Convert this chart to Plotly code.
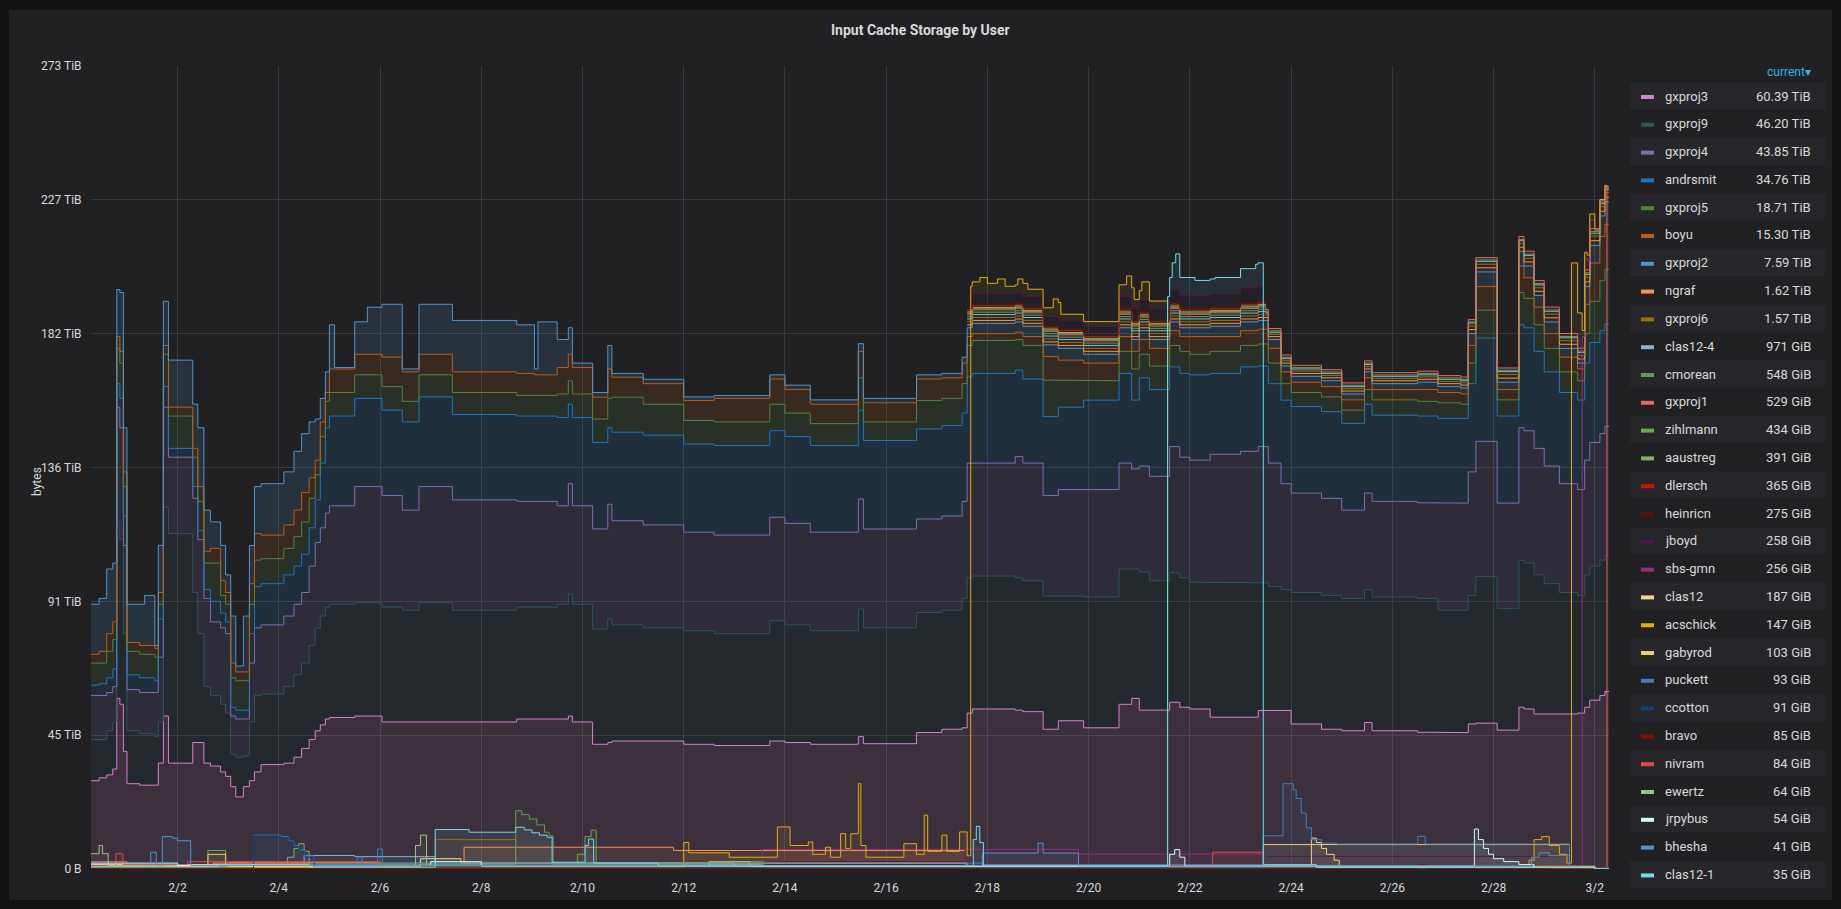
import numpy as np
import pandas as pd
import plotly.graph_objects as go

# ---------------- time reference ----------------
# times are given as fractional days since 2022-01-31 00:00 (so 2.0 == Feb 2 00:00)
BASE = pd.Timestamp("2022-01-31 00:00")
T_START, T_END = 0.29, 30.28

# ---------------- main (large) series, own values in TiB ----------------
t_main = [0.29, 0.45, 0.60, 0.72, 0.80, 0.86, 0.93, 1.00, 1.25, 1.35, 1.55, 1.62, 1.72, 1.82,
          2.30, 2.40, 2.52, 2.65, 2.85, 2.95, 3.05, 3.15, 3.30, 3.42, 3.52, 3.65, 4.10, 4.30,
          4.45, 4.60, 4.72, 4.82, 4.92, 5.00, 5.10, 5.50, 5.75, 6.04, 6.44, 6.77, 7.43, 8.70,
          9.05, 9.12, 9.50, 9.72, 9.80, 10.20, 10.50, 10.58, 11.20, 12.00, 12.60, 13.70, 14.00,
          14.50, 15.45, 15.55, 16.60, 17.10, 17.50, 17.60, 17.70, 18.55, 18.70, 19.10, 19.40,
          19.90, 20.60, 20.85, 21.00, 21.20, 21.60, 21.80, 22.00, 22.40, 23.00, 23.35, 23.55,
          23.80, 24.00, 24.60, 25.00, 25.45, 25.60, 26.50, 26.90, 27.35, 27.50, 27.65, 28.07,
          28.50, 28.60, 28.80, 29.00, 29.30, 29.66, 29.80, 29.90, 30.10, 30.20]

gxproj3 = [30, 31, 32, 34, 58, 56, 40, 29, 28.5, 28.5, 28.5, 36, 52, 36,
           43, 43, 36, 35, 33, 31.5, 28, 24.5, 28, 30, 33, 35.5, 36, 38,
           41, 44, 47, 49, 51, 51.5, 51.5, 52, 52, 50, 50, 50, 50, 51,
           51, 51, 51, 52, 50, 42.4, 43, 43.5, 43.5, 42.4, 42, 43.5, 43,
           42.4, 45, 42.6, 46.4, 47.5, 48, 53, 54.4, 54, 53.5, 47.5, 50.4,
           48, 56, 58, 54, 54, 56.7, 55, 54.4, 51.6, 51.6, 53.9, 53.9,
           53.9, 49.3, 47.5, 47, 49.8, 47, 46.5, 46.5, 46.4, 49.3, 49.6, 47.2,
           55, 54.4, 52.7, 52.7, 52.7, 53, 55, 57.4, 59, 60.39]
gxproj9 = [14, 13, 15, 16, 60, 56, 40, 18, 17.5, 17.5, 16.5, 14, 71, 78,
           51, 37, 26, 24, 23, 21.5, 11, 13.5, 10.5, 20, 26, 24, 26, 28,
           29, 32, 35, 37, 38, 38.5, 38.5, 38.5, 38.5, 39, 38, 40.5, 38, 38,
           38, 38, 39, 41.5, 40, 39.2, 42, 39.5, 38.5, 38.6, 38, 40.9, 40,
           38.6, 43.4, 39.4, 40.8, 40.5, 44, 46, 45.2, 45, 44.5, 45.3, 42.4,
           44.5, 46, 44, 47, 44, 44, 44, 43.1, 45.7, 45.7, 43.4, 42.1,
           41.1, 44.7, 45.5, 45, 45.2, 45.5, 45.5, 41.5, 41.6, 43.7, 49.8, 41.3,
           49.9, 49.6, 47.3, 44.3, 41.3, 40, 45, 45.6, 46, 46.2]
gxproj4 = [15, 15, 13, 12, 39, 38, 30, 14, 14, 14, 15, 22, 34, 26,
           32, 32, 30, 25, 26, 27, 13, 13, 12.5, 20, 23, 23.5, 24, 24,
           24, 27, 29, 30, 32, 33.5, 33.5, 39.5, 39.5, 38, 34, 39.5, 37.5, 36,
           36, 36, 33.5, 37.5, 33.5, 34, 39, 35.4, 35, 33.5, 33.5, 35.2, 34.5,
           33.5, 37.4, 33.6, 31.8, 32, 33, 39, 38.4, 41.2, 40, 34.2, 36.2,
           36.5, 36, 34, 36, 35.5, 42.9, 41, 41.5, 43.7, 44.7, 46.3, 42,
           36, 33.8, 33, 30, 32.8, 32.5, 32.5, 36.4, 36.4, 42, 46, 35.9,
           45.1, 45, 43, 40, 37, 36, 39, 42, 43, 43.85]
andrsmit = [3.5, 4, 5, 6, 8, 10, 10, 5, 5, 5, 4, 13, 7, 3,
            4, 3, 3, 7, 5, 4, 3, 3, 3, 10, 14, 14, 14, 13,
            13, 13, 14.5, 22, 29, 30.5, 30.5, 30, 30, 29, 30, 30.5, 29, 29,
            29, 29, 30, 27, 30, 29.4, 26, 30.1, 30.5, 30, 30.5, 29.4, 29.5,
            29.5, 30.2, 30.1, 30.6, 30.8, 30, 29.3, 30.5, 29.4, 28.6, 26.8, 28,
            30.4, 30.5, 23.4, 30, 29.5, 27.1, 28.5, 29, 27.5, 28.7, 27.4, 27,
            28.4, 29.4, 29.5, 29.5, 30.2, 29.3, 29.5, 28.8, 28.8, 30, 35.1, 29.6,
            35, 35, 33, 32, 31, 30.4, 33, 34, 35, 34.76]
gxproj5 = [7.5, 7, 9, 10, 12, 12, 10, 8, 8, 8, 8, 5, 11, 11,
           10, 10, 9, 13, 6, 6, 10, 10, 10, 10, 9, 8.5, 9, 10,
           11, 10, 8.5, 9, 9, 8, 8, 8, 8, 8, 7, 7.5, 7.5, 7,
           7, 7, 8, 8, 8, 8, 10, 11.9, 10.5, 8, 8, 9, 8,
           7.4, 11, 6.3, 9.7, 9.2, 10, 10.7, 11.2, 10.4, 11.4, 12.4, 9,
           6.6, 7.5, 10.6, 8, 8, 7.3, 7.5, 7, 7.5, 7.3, 7.5, 7,
           5.6, 4.8, 5, 4.5, 5, 5.2, 5, 5.3, 4.8, 7, 9.5, 5.5,
           11, 10, 9, 8, 7, 6.6, 10, 14, 17, 18.71]
boyu = [3, 4, 6, 6, 4, 4, 5, 3, 3, 3, 3, 4, 3, 3,
        3, 5, 4, 5, 5, 4, 5, 3, 3, 7, 9, 8, 8, 9,
        10, 7, 5, 5, 3, 8, 8, 7, 7, 10, 10, 7, 7, 7.5,
        7, 7, 9, 9, 9, 7.4, 10, 6.8, 7, 6.8, 8, 8.6, 8,
        6.6, 9, 6.5, 7.3, 7, 7, 3, 2.3, 2.5, 3, 8, 7,
        6, 5, 6, 5, 6, 5, 5, 6, 5, 5, 5, 5,
        4, 3.5, 3.5, 3.5, 4, 3.5, 4, 3.5, 3.5, 6, 8, 3.5,
        9, 7, 6, 5, 5, 4, 10, 13, 15, 15.3]
gxproj2 = [17, 18, 22, 20, 16, 20, 15, 13, 14, 17, 1, 16, 15, 16,
           15, 20, 14, 9, 12, 6, 16, 2, 19, 13, 16, 17.5, 18, 20,
           20, 19, 14, 8, 7, 15, 0.5, 11, 16, 18, 1, 17, 17.5, 16.5,
           2, 18, 9.5, 9, 1.5, 1.6, 8, 1.3, 1.5, 1.2, 1, 1.4, 1.5,
           1.5, 2.6, 1.5, 1.4, 1.5, 2, 3, 3.5, 3.5, 3.5, 4, 4,
           3, 3, 4, 3, 3, 3, 3, 3, 3.5, 3, 3, 3,
           2, 2, 2, 2, 2, 2, 2.5, 2, 2, 4, 5, 2.5,
           5, 4, 4, 4, 3, 2, 6, 6, 7, 7.59]

# ---------------- smaller series: (time, own value TiB); None = no data ----------------
ngraf_t = [0.29, 2.7, 4.6, 7.66, 11.8, 17.55, 17.6, 23.5, 27.5, 29.8]
ngraf_v = [1.2, 2.0, 1.0, 7.4, 6.3, None, 1.0, 1.0, 1.4, 1.62]
gxproj6_t = [0.29, 7.09, 8.68, 12.0, 17.55, 17.6, 23.5, 27.5, 29.8]
gxproj6_v = [0.8, 10.0, 2.0, 1.5, None, 1.0, 0.8, 1.2, 1.57]
clas12_4_t = [0.29, 4.5, 5.5, 7.09, 12.0, 17.55, 17.6, 23.5, 27.5, 29.8]
clas12_4_v = [0.6, 4.6, 4.2, 1.0, 1.8, None, 1.0, 0.7, 1.0, 0.97]
cmorean_t = [0.29, 8.68, 8.8, 8.95, 9.1, 9.25, 9.34, 9.42, 17.55, 17.6, 23.5, 29.8]
cmorean_v = [1.5, 19.8, 18.5, 17.0, 15.0, 12.5, 11.3, 1.5, None, 0.8, 0.45, 0.54]
gxproj1_t = [0.29, 1.0, 3.0, 6.0, 12.0, 17.55, 17.6, 23.5, 28.5, 30.0, 30.24]
gxproj1_v = [2.5, 1.5, 2.2, 1.0, 1.8, None, 0.8, 0.8, 1.0, 0.52, 0.52]
zihlmann_t = [0.29, 2.6, 2.95, 9.9, 10.05, 10.17, 10.27, 13.0, 17.55, 17.6, 23.5, 23.55]
zihlmann_v = [1.0, 6.3, 1.0, 5.0, 11.0, 13.2, 2.0, 2.5, None, 0.4, None, 0.42]
aaustreg_t = [0.29, 4.17, 4.3, 4.39, 4.5, 4.6, 12.5, 17.55, 17.6, 23.5, 23.55]
aaustreg_v = [0.8, 4.0, 7.0, 8.6, 6.0, 2.0, 1.5, None, 0.4, None, 0.38]
dlersch_t = [0.29, 5.0, 14.0, 17.55, 17.6, 23.5, 23.55]
dlersch_v = [0.5, 1.0, 2.5, None, 0.6, None, 0.36]
heinricn_t = [0.29, 13.6, 17.55, 17.6, 23.5, 23.55]
heinricn_v = [0.3, 1.5, None, 0.6, None, 0.27]
jboyd_t = [0.29, 13.6, 17.55, 17.6, 19.1, 20.6, 21.6, 23.0, 23.45, 23.5, 29.5, 29.75]
jboyd_v = [0.3, 2.5, None, 3.5, 3.0, 4.0, 4.5, 5.0, None, 4.3, 0.5, 0.26]
sbs_gmn_t = [0.29, 13.55, 19.8, 23.45, 29.75, 29.85, 30.0]
sbs_gmn_v = [0.4, 6.7, 5.1, 0.5, 4.0, 3.0, 0.26]
clas12_t = [0.29, 3.0, 6.8, 7.6, 13.0, 24.4, 24.5, 24.6, 24.7, 24.85, 24.95, 28.5]
clas12_v = [1.5, 0.8, 3.5, 2.0, 1.0, 10.5, 9.0, 7.0, 5.0, 3.0, 0.5, 0.19]
acschick_t = [0.29, 12.0, 12.1, 12.9, 13.85, 14.1, 14.46, 14.55, 14.8, 14.9, 15.1, 15.2, 15.3,
              15.45, 15.5, 15.6, 16.35, 16.6, 16.75, 16.82, 17.1, 17.2, 17.45, 17.6, 17.67,
              17.85, 18.0, 18.2, 18.35, 18.6, 18.8, 19.1, 19.3, 19.45, 19.9, 20.6, 20.75, 20.9,
              21.05, 21.2, 21.56, 28.7, 28.8, 28.95, 29.1, 29.3, 29.45, 29.54, 29.66, 29.75, 30.0]
acschick_v = [0.5, 9.0, 5.5, 4.0, 14.3, 8.0, 9.2, 5.0, 7.4, 4.0, 12.0, 7.0, 12.0,
              29.0, 8.0, 4.0, 8.6, 5.0, 18.3, 6.0, 11.5, 6.0, 12.6, 4.5, 4.0,
              5.5, 3.5, 5.0, 2.5, 4.5, 2.5, 3.0, 6.0, 2.0, 1.5, 4.0, 7.0, 3.0,
              6.0, 2.5, 0.5, 3.0, 10.0, 11.0, 8.0, 5.0, 2.0, 24.0, 12.0, 2.0, 0.14]
gabyrod_t = [0.29, 2.6, 2.95, 12.5, 17.6, 23.45, 29.5, 30.0]
gabyrod_v = [1.0, 5.0, 1.2, 2.0, 0.8, 8.3, 0.8, 0.1]
puckett_t = [0.29, 3.5, 4.04, 4.2, 4.3, 4.4, 4.52, 4.7, 5.55, 5.65, 5.95, 6.05, 17.9, 23.45,
             23.84, 24.04, 24.1, 24.2, 24.3, 24.4, 24.6, 24.9, 26.5, 26.65, 29.5, 30.0]
puckett_v = [1.2, 11.5, 11.0, 9.5, 8.0, 6.5, 4.5, 1.5, 4.0, 1.5, 6.8, 2.0, 1.5, 11.3,
             29.0, 27.0, 24.0, 19.0, 14.0, 10.0, 8.8, 8.5, 11.1, 8.5, 1.0, 0.09]
ccotton_t = [0.29, 3.5, 4.04, 4.2, 4.3, 4.4, 4.52, 4.7, 30.0]
ccotton_v = [0.3, 11.2, 10.7, 9.2, 7.6, 6.0, 4.0, 0.6, 0.09]
bravo_t = [0.29, 26.5, 26.7, 30.0]
bravo_v = [0.2, 1.5, 0.3, 0.08]
nivram_t = [0.29, 0.78, 0.92, 2.2, 6.0, 22.45, 23.45, 30.0]
nivram_v = [1.0, 5.2, 1.5, 2.5, 1.2, 5.7, 1.0, 0.08]
ewertz_t = [0.29, 0.45, 0.52, 0.63, 6.7, 6.8, 6.92, 12.5, 13.3, 30.0]
ewertz_v = [5.2, 8.0, 5.2, 1.2, 8.0, 11.5, 1.2, 2.5, 0.8, 0.06]
jrpybus_t = [0.29, 2.0, 7.0, 8.0, 21.6, 21.7, 21.8, 21.9, 27.62, 27.7, 27.8, 27.9, 28.0,
             28.2, 28.5, 28.8, 30.0]
jrpybus_v = [2.0, 1.2, 2.5, 1.0, 5.0, 6.6, 4.0, 1.0, 13.6, 10.0, 7.0, 5.0, 3.5,
             2.5, 1.5, 0.5, 0.05]
bhesha_t = [0.29, 1.47, 1.58, 1.7, 1.9, 2.0, 2.26, 17.9, 19.0, 19.1, 19.8, 28.75, 28.9, 29.1,
            29.5, 30.0]
bhesha_v = [0.8, 5.7, 1.0, 11.0, 10.5, 9.6, 1.2, 5.4, 8.8, 5.4, 1.0, 4.0, 5.5, 4.5,
            0.5, 0.04]
clas12_1_t = [0.29, 2.8, 4.6, 7.09, 7.76, 8.68, 8.85, 9.0, 9.15, 9.3, 9.4, 10.05, 10.12, 10.22,
              11.5, 17.72, 17.78, 17.85, 17.92, 21.56, 21.65, 21.72, 21.8, 22.1, 22.5, 23.0,
              23.3, 23.45, 24.5, 30.0]
clas12_1_v = [0.8, 1.5, 0.6, 13.4, 12.5, 14.2, 13.3, 12.3, 11.5, 10.8, 2.3, 8.0, 10.2, 2.0,
              1.0, 10.0, 14.5, 9.0, 1.0, 4.0, 9.0, 12.0, 6.0, 5.0, 5.5, 6.5,
              8.0, 1.5, 0.5, 0.035]

# legend (sorted by current value)
legend_names = ["gxproj3", "gxproj9", "gxproj4", "andrsmit", "gxproj5", "boyu", "gxproj2",
                "ngraf", "gxproj6", "clas12-4", "cmorean", "gxproj1", "zihlmann", "aaustreg",
                "dlersch", "heinricn", "jboyd", "sbs-gmn", "clas12", "acschick", "gabyrod",
                "puckett", "ccotton", "bravo", "nivram", "ewertz", "jrpybus", "bhesha", "clas12-1"]
legend_current = ["60.39 TiB", "46.20 TiB", "43.85 TiB", "34.76 TiB", "18.71 TiB", "15.30 TiB",
                  "7.59 TiB", "1.62 TiB", "1.57 TiB", "971 GiB", "548 GiB", "529 GiB", "434 GiB",
                  "391 GiB", "365 GiB", "275 GiB", "258 GiB", "256 GiB", "187 GiB", "147 GiB",
                  "103 GiB", "93 GiB", "91 GiB", "85 GiB", "84 GiB", "64 GiB", "54 GiB",
                  "41 GiB", "35 GiB"]
colors = ["#D683CE", "#2F575E", "#806EB7", "#1F78C1", "#508642", "#C15C17", "#5195CE",
          "#F9934E", "#967302", "#82B5D8", "#629E51", "#EA6460", "#6AA84F", "#7EB26D",
          "#BF1B00", "#58140C", "#511749", "#962D82", "#F4D598", "#E5AC0E", "#F2C96D",
          "#447EBC", "#0A437C", "#890F02", "#E24D42", "#9AC48A", "#CFFAFF", "#5195CE", "#70DBED"]

y_tick_vals = [0, 45.5, 91, 136.5, 182, 227.5, 273]
y_tick_text = ["0 B", "45 TiB", "91 TiB", "136 TiB", "182 TiB", "227 TiB", "273 TiB"]

ALWAYS = [(0.0, 99.0)]
series_data = [
    (t_main, gxproj3, ALWAYS), (t_main, gxproj9, ALWAYS), (t_main, gxproj4, ALWAYS),
    (t_main, andrsmit, ALWAYS), (t_main, gxproj5, ALWAYS), (t_main, boyu, ALWAYS),
    (t_main, gxproj2, ALWAYS),
    (ngraf_t, ngraf_v, [(17.6, 99)]), (gxproj6_t, gxproj6_v, [(17.6, 99)]),
    (clas12_4_t, clas12_4_v, [(17.6, 99)]), (cmorean_t, cmorean_v, [(17.6, 99)]),
    (gxproj1_t, gxproj1_v, [(17.6, 30.24)]), (zihlmann_t, zihlmann_v, [(17.6, 23.5)]),
    (aaustreg_t, aaustreg_v, [(17.6, 23.5)]), (dlersch_t, dlersch_v, [(17.6, 23.5)]),
    (heinricn_t, heinricn_v, [(17.6, 23.5)]), (jboyd_t, jboyd_v, [(17.6, 23.45)]),
    (sbs_gmn_t, sbs_gmn_v, [(29.75, 99)]), (clas12_t, clas12_v, []),
    (acschick_t, acschick_v, [(17.67, 21.56), (29.54, 99)]), (gabyrod_t, gabyrod_v, []),
    (puckett_t, puckett_v, []), (ccotton_t, ccotton_v, []), (bravo_t, bravo_v, []),
    (nivram_t, nivram_v, []), (ewertz_t, ewertz_v, []), (jrpybus_t, jrpybus_v, []),
    (bhesha_t, bhesha_v, []), (clas12_1_t, clas12_1_v, [(21.56, 23.45)]),
]

# ---------------- build stacked step paths ----------------
T = np.unique(np.concatenate([np.asarray(s[0], float) for s in series_data]))
T = T[(T >= T_START) & (T < T_END)]
T_next = np.append(T[1:], T_END)


def step_eval(ts, vs):
    ts = np.asarray(ts, float)
    vv = np.array([np.nan if v is None else float(v) for v in vs])
    idx = np.searchsorted(ts, T, side="right") - 1
    out = np.full(T.shape, np.nan)
    ok = idx >= 0
    out[ok] = vv[idx[ok]]
    return out


def runs(valid):
    out, start = [], None
    for i, ok in enumerate(valid):
        if ok and start is None:
            start = i
        if not ok and start is not None:
            out.append(list(range(start, i)))
            start = None
    if start is not None:
        out.append(list(range(start, len(valid))))
    return out


def to_dt(d):
    return None if d is None else BASE + pd.Timedelta(days=float(d))


def hex_rgba(h, a):
    h = h.lstrip("#")
    return "rgba(%d,%d,%d,%.3f)" % (int(h[0:2], 16), int(h[2:4], 16), int(h[4:6], 16), a)


fills, lines = [], []
base = np.zeros(T.shape)
for k, (ts, vs, intervals) in enumerate(series_data):
    v = step_eval(ts, vs)
    mask = np.zeros(T.shape, bool)
    for a, b in intervals:
        mask |= (T >= a) & (T < b)
    bottom = np.where(mask, base, 0.0)
    top = bottom + v
    base = base + np.where(mask, np.nan_to_num(v), 0.0)

    lx, ly, fx, fy = [], [], [], []
    for r in runs(~np.isnan(v)):
        for i in r:
            lx += [T[i], T_next[i]]
            ly += [top[i], top[i]]
        lx.append(None); ly.append(None)
        for i in r:
            fx += [T[i], T_next[i]]
            fy += [top[i], top[i]]
        for i in reversed(r):
            fx += [T_next[i], T[i]]
            fy += [bottom[i], bottom[i]]
        fx.append(None); fy.append(None)
    col = colors[k]
    alpha = 0.15 if k < 7 else 0.08
    fills.append(go.Scatter(x=[to_dt(x) for x in fx], y=fy, mode="lines", fill="toself",
                            fillcolor=hex_rgba(col, alpha), line=dict(width=0),
                            hoverinfo="skip", showlegend=False))
    lines.append(go.Scatter(x=[to_dt(x) for x in lx], y=ly, mode="lines", name=legend_names[k],
                            line=dict(color=col, width=1), connectgaps=False, showlegend=False))

fig = go.Figure(fills + lines)

# ---------------- layout ----------------
W, H = 1841, 909
PL, PR, PT, PB = 91, 1609, 66, 869
PANEL = "#212124"
GRID = "#3b3b3f"
TXT = "#d8d9da"


def PX(x):
    return (x - PL) / (PR - PL)


def PY(y):
    return (PB - y) / (PB - PT)


shapes = [dict(type="rect", xref="paper", yref="paper", x0=PX(9), x1=PX(1832), y0=PY(10),
               y1=PY(900), fillcolor=PANEL, line=dict(width=0), layer="below")]
annotations = [
    dict(text="<b>Input Cache Storage by User</b>", x=PX(920.5), y=PY(30), xref="paper",
         yref="paper", showarrow=False, xanchor="center", yanchor="middle",
         font=dict(size=14, color=TXT)),
    dict(text="bytes", x=PX(37), y=PY(481), xref="paper", yref="paper", showarrow=False,
         textangle=-90, xanchor="center", yanchor="middle", font=dict(size=12, color=TXT)),
    dict(text="current▾", x=PX(1813), y=PY(72), xref="paper", yref="paper", showarrow=False,
         xanchor="right", yanchor="middle", font=dict(size=12, color="#33b5e5")),
]
for i, (nm, val) in enumerate(zip(legend_names, legend_current)):
    cy = 96 + i * 27.8
    if i % 2 == 0:
        shapes.append(dict(type="rect", xref="paper", yref="paper", x0=PX(1630), x1=PX(1825),
                           y0=PY(cy - 13.4), y1=PY(cy + 13.4), fillcolor="#27272b",
                           line=dict(width=0), layer="below"))
    shapes.append(dict(type="rect", xref="paper", yref="paper", x0=PX(1641), x1=PX(1654),
                       y0=PY(cy - 1), y1=PY(cy + 3), fillcolor=colors[i], line=dict(width=0)))
    annotations.append(dict(text=nm, x=PX(1663), y=PY(cy), xref="paper", yref="paper",
                            showarrow=False, xanchor="left", yanchor="middle",
                            font=dict(size=13, color=TXT)))
    annotations.append(dict(text=val, x=PX(1813), y=PY(cy), xref="paper", yref="paper",
                            showarrow=False, xanchor="right", yanchor="middle",
                            font=dict(size=13, color=TXT)))

fig.update_layout(
    width=W, height=H, autosize=False,
    margin=dict(l=PL, r=W - PR, t=PT, b=H - PB, pad=0),
    paper_bgcolor="#111214", plot_bgcolor="rgba(0,0,0,0)",
    showlegend=False,
    font=dict(family="Roboto, 'Open Sans', sans-serif", size=12, color=TXT),
    xaxis=dict(type="date", range=[to_dt(T_START), to_dt(T_END)], showgrid=True,
               gridcolor=GRID, gridwidth=1, tick0="2022-02-02", dtick=2 * 86400000,
               tickformat="%-m/%-d", zeroline=False, showline=False, ticks="outside",
               ticklen=8, tickcolor="rgba(0,0,0,0)", tickfont=dict(size=12, color=TXT)),
    yaxis=dict(range=[0, 273], tickmode="array", tickvals=y_tick_vals, ticktext=y_tick_text,
               showgrid=True, gridcolor=GRID, gridwidth=1, zeroline=False, showline=False,
               ticks="outside", ticklen=6, tickcolor="rgba(0,0,0,0)",
               tickfont=dict(size=12, color=TXT)),
    shapes=shapes, annotations=annotations,
)

fig.write_html("out.html",
               config={"displayModeBar": False},
               post_script="document.body.style.margin='0px';"
                           "document.body.style.overflow='hidden';")
